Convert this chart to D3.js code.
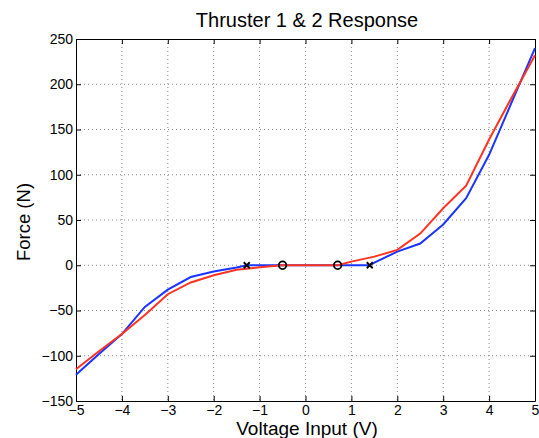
<!DOCTYPE html>
<html>
<head>
<meta charset="utf-8">
<script src="https://cdn.jsdelivr.net/npm/d3@7"></script>
<style>
  body { margin: 0; background: #fff; }
  svg { font-family: "Liberation Sans", Arial, sans-serif; }
  .grid line { stroke: #888; stroke-dasharray: 1,3; stroke-width: 1; }
  .axis path, .axis line { stroke: #000; }
  .axis text { font-size: 14px; fill: #000; }
</style>
</head>
<body>
<svg id="chart" width="539" height="438"></svg>
<script>
"use strict";

// thruster 1 (blue) and thruster 2 (red) measured force vs voltage
const volts1 = [-5, -4.5, -4, -3.5, -3, -2.5, -2, -1.5, -1.28, 1.4, 1.5, 2, 2.5, 3, 3.5, 4, 4.5, 5];
const force1 = [-121, -98, -76, -46, -27, -13, -7, -2.5, 0, 0, 3, 15, 24, 45, 74, 122, 181, 240];
const volts2 = [-5, -4.5, -4, -3.5, -3, -2.5, -2, -1.5, -1, -0.5, 0.7, 1, 1.5, 2, 2.5, 3, 3.5, 4, 4.5, 5];
const force2 = [-115, -95, -76, -55, -32, -19, -11, -5, -2.3, 0, 0, 4, 9.5, 17, 35, 63, 88, 139, 186, 232];

// deadband markers
const crossV  = [-1.28, 1.4];
const circleV = [-0.5, 0.7];

const xTicks = [-5, -4, -3, -2, -1, 0, 1, 2, 3, 4, 5];
const yTicks = [-150, -100, -50, 0, 50, 100, 150, 200, 250];

const margin = { top: 39, right: 4, bottom: 37, left: 76 };
const width  = 539 - margin.left - margin.right,
      height = 438 - margin.top - margin.bottom;

const x = d3.scaleLinear().domain([-5, 5]).range([0, width]);
const y = d3.scaleLinear().domain([-150, 250]).range([height, 0]);

const fmt = (d) => String(d).replace("-", "\u2212");

const svg = d3.select("#chart");
const g = svg.append("g")
    .attr("transform", "translate(" + margin.left + "," + margin.top + ")");

// grid
g.append("g").attr("class", "grid")
  .selectAll("line").data(xTicks.slice(1, -1)).enter().append("line")
    .attr("x1", (d) => x(d)).attr("x2", (d) => x(d))
    .attr("y1", 0).attr("y2", height);
g.append("g").attr("class", "grid")
  .selectAll("line").data(yTicks.slice(1, -1)).enter().append("line")
    .attr("y1", (d) => y(d)).attr("y2", (d) => y(d))
    .attr("x1", 0).attr("x2", width);

// axes, ticks inside
g.append("g").attr("class", "axis")
    .attr("transform", "translate(0," + height + ")")
    .call(d3.axisBottom(x).tickValues(xTicks).tickFormat(fmt).tickSizeInner(-5).tickSizeOuter(0).tickPadding(4));
g.append("g").attr("class", "axis")
    .call(d3.axisLeft(y).tickValues(yTicks).tickFormat(fmt).tickSizeInner(-5).tickSizeOuter(0).tickPadding(3));
g.append("g").attr("class", "axis")
    .call(d3.axisTop(x).tickValues(xTicks).tickFormat("").tickSizeInner(-5).tickSizeOuter(0));
g.append("g").attr("class", "axis")
    .attr("transform", "translate(" + width + ",0)")
    .call(d3.axisRight(y).tickValues(yTicks).tickFormat("").tickSizeInner(-5).tickSizeOuter(0));

// lines
const line = d3.line().x((d) => x(d[0])).y((d) => y(d[1]));
g.append("path")
    .datum(d3.zip(volts1, force1))
    .attr("d", line)
    .attr("fill", "none").attr("stroke", "#1a35ff").attr("stroke-width", 2);
g.append("path")
    .datum(d3.zip(volts2, force2))
    .attr("d", line)
    .attr("fill", "none").attr("stroke", "#ff3322").attr("stroke-width", 2);

// markers
g.selectAll(".cross").data(crossV).enter().append("path")
    .attr("class", "cross")
    .attr("transform", (d) => "translate(" + x(d) + "," + y(0) + ")")
    .attr("d", "M-3,-3L3,3M-3,3L3,-3")
    .attr("stroke", "#000").attr("stroke-width", 1.8);
g.selectAll(".circ").data(circleV).enter().append("circle")
    .attr("class", "circ")
    .attr("cx", (d) => x(d)).attr("cy", y(0)).attr("r", 3.8)
    .attr("fill", "none").attr("stroke", "#000").attr("stroke-width", 1.8);

// texts
svg.append("text")
    .attr("x", 307).attr("y", 27)
    .attr("text-anchor", "middle").style("font-size", "20px")
    .text("Thruster 1 & 2 Response");
svg.append("text")
    .attr("x", 307).attr("y", 435)
    .attr("text-anchor", "middle").style("font-size", "19px")
    .text("Voltage Input (V)");
svg.append("text")
    .attr("transform", "translate(30,222) rotate(-90)")
    .attr("text-anchor", "middle").style("font-size", "18.5px")
    .text("Force (N)");
</script>
</body>
</html>
